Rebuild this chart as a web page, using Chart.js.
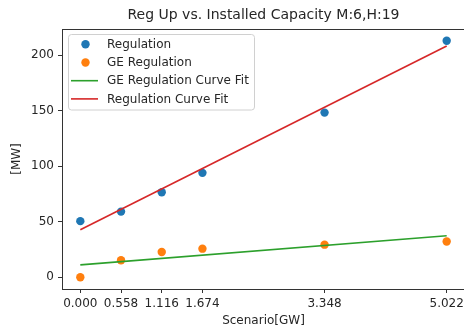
<!DOCTYPE html>
<html>
<head>
<meta charset="utf-8">
<script src="https://cdn.jsdelivr.net/npm/chart.js@4"></script>
<style>
  html, body { margin: 0; padding: 0; background: #fff; overflow: hidden; }
  #chart { width: 470px; height: 328px; }
</style>
</head>
<body>
<div id="chart"><canvas width="470" height="328"></canvas></div>
<script>
const scenarios = [0, 0.558, 1.116, 1.674, 3.348, 5.022];
const regulation = [50.5, 59.1, 76.5, 94.0, 148.3, 213];
const geRegulation = [0, 15.2, 22.7, 25.7, 29.3, 32.2];
const fitX = [0, 5.022];
const geFit = [11.1, 37.3];
const regFit = [42.7, 208.3];
const xTicks = [0, 0.558, 1.116, 1.674, 3.348, 5.022];
const yTicks = [0, 50, 100, 150, 200];
const chartTitle = 'Reg Up vs. Installed Capacity M:6,H:19';

const FONT = 'DejaVu Sans';
const INK = '#262626';
const AXIS = '#333333';

function toPoints(xs, ys) {
  return xs.map((x, i) => ({x: x, y: ys[i]}));
}

const datasets = [
  {label: 'Regulation', data: toPoints(scenarios, regulation), color: '#1f77b4', kind: 'dot'},
  {label: 'GE Regulation', data: toPoints(scenarios, geRegulation), color: '#ff7f0e', kind: 'dot'},
  {label: 'GE Regulation Curve Fit', data: toPoints(fitX, geFit), color: '#2ca02c', kind: 'line'},
  {label: 'Regulation Curve Fit', data: toPoints(fitX, regFit), color: '#d62728', kind: 'line'}
].map(d => ({
  label: d.label,
  data: d.data,
  kind: d.kind,
  showLine: d.kind === 'line',
  borderColor: d.color,
  backgroundColor: d.color,
  borderWidth: d.kind === 'line' ? 1.6 : 0,
  pointRadius: d.kind === 'dot' ? 4.2 : 0,
  order: d.kind === 'line' ? 0 : 1
}));

// top/right spines + title centred over the axes (like matplotlib)
const frame = {
  id: 'frame',
  afterDatasetsDraw(chart) {
    const {ctx, chartArea: a} = chart;
    ctx.save();
    ctx.strokeStyle = AXIS;
    ctx.lineWidth = 1;
    ctx.beginPath();
    ctx.moveTo(a.left, a.top + 0.5);
    ctx.lineTo(a.right, a.top + 0.5);
    ctx.lineTo(a.right, a.bottom);
    ctx.stroke();
    ctx.fillStyle = INK;
    ctx.font = '14px "' + FONT + '"';
    ctx.textAlign = 'center';
    ctx.textBaseline = 'middle';
    ctx.fillText(chartTitle, (a.left + a.right) / 2, 15);
    ctx.restore();
  }
};

// matplotlib style legend in the upper left corner
const boxLegend = {
  id: 'boxLegend',
  afterDraw(chart) {
    const ctx = chart.ctx;
    const left = 68.5, top = 34.5, w = 186, h = 75.5;
    ctx.save();
    ctx.fillStyle = 'rgba(255,255,255,0.8)';
    ctx.strokeStyle = '#d0d0d0';
    ctx.lineWidth = 1;
    ctx.beginPath();
    ctx.roundRect(left, top, w, h, 3);
    ctx.fill();
    ctx.stroke();
    ctx.font = '12px "' + FONT + '"';
    ctx.textBaseline = 'middle';
    chart.data.datasets.forEach((ds, i) => {
      const y = 44.3 + i * 18.2;
      if (ds.kind === 'dot') {
        ctx.fillStyle = ds.backgroundColor;
        ctx.beginPath();
        ctx.arc(85.5, y, 4.2, 0, Math.PI * 2);
        ctx.fill();
      } else {
        ctx.strokeStyle = ds.borderColor;
        ctx.lineWidth = 1.6;
        ctx.beginPath();
        ctx.moveTo(71, y);
        ctx.lineTo(98, y);
        ctx.stroke();
      }
      ctx.fillStyle = INK;
      ctx.fillText(ds.label, 107, y + 0.5);
    });
    ctx.restore();
  }
};

const canvas = document.querySelector('#chart canvas');
const chart = new Chart(canvas, {
  type: 'scatter',
  data: {datasets: datasets},
  plugins: [frame, boxLegend],
  options: {
    responsive: false,
    animation: false,
    layout: {padding: {left: 0, right: 5, top: 29, bottom: 0}},
    plugins: {
      legend: {display: false},
      tooltip: {enabled: false},
      title: {display: false}
    },
    scales: {
      x: {
        type: 'linear',
        min: -0.2511,
        max: 5.2731,
        afterBuildTicks: axis => { axis.ticks = xTicks.map(v => ({value: v})); },
        afterFit: axis => { axis.height = 39; },
        ticks: {
          color: INK,
          font: {family: FONT, size: 12},
          padding: 4,
          maxRotation: 0,
          autoSkip: false,
          callback: v => v.toFixed(3)
        },
        grid: {drawOnChartArea: false, drawTicks: true, tickLength: 4, color: AXIS},
        border: {color: AXIS, width: 1},
        title: {
          display: true,
          text: 'Scenario[GW]',
          color: INK,
          font: {family: FONT, size: 12},
          padding: {top: 0, bottom: 0}
        }
      },
      y: {
        min: -10.65,
        max: 223.65,
        afterBuildTicks: axis => { axis.ticks = yTicks.map(v => ({value: v})); },
        afterFit: axis => { axis.width = 62; },
        ticks: {
          color: INK,
          font: {family: FONT, size: 12},
          padding: 4,
          callback: v => String(v)
        },
        grid: {drawOnChartArea: false, drawTicks: true, tickLength: 4, color: AXIS},
        border: {color: AXIS, width: 1},
        title: {
          display: true,
          text: '[MW]',
          color: INK,
          font: {family: FONT, size: 12},
          padding: {top: 10, bottom: 0}
        }
      }
    }
  }
});
</script>
</body>
</html>
